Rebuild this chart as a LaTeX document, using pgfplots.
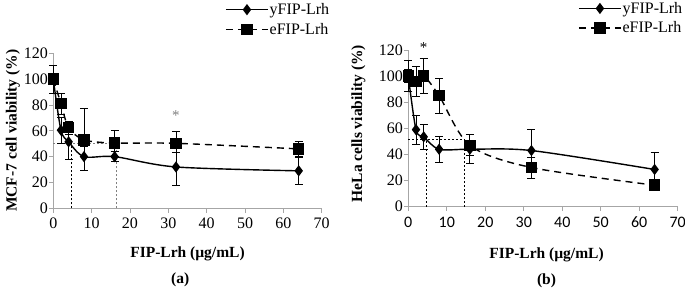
\documentclass[border=0pt]{standalone}
\usepackage{fontspec}
\setmainfont{Liberation Serif}
\newfontfamily\carlito{Carlito}
\newfontfamily\tnr{Liberation Serif}
\usepackage{pgfplots}
\pgfplotsset{compat=1.18}
\usepackage{pgfplotstable}

\pgfplotstableread{
x y ep em
0 100 4 4
2 60.5 10 10
4 51.5 8 14
8 40 8 10.5
16 40 4 4
32 32 11 14.5
64 29 10.5 10.5
}\ay
\pgfplotstableread{
x y ep em
0 100 11 11
2 81 8 8
4 62.5 5 5
8 53 24.5 24
16 50.5 10 10
32 50.3 9.5 7
64 46 6 6
}\ae
\pgfplotstableread{
x y ep em
0 100 5 5
2 59 11 11
4 53.5 9.5 9.5
8 44 10 10
16 44 11 11
32 43 16 5
64 28.5 13 13
}\by
\pgfplotstableread{
x y ep em
0 100 12 12
2 96 11.5 11.5
4 100 13.5 13.5
8 85 13.5 13.5
16 47 8 8
32 30 8 8
64 16.5 2 2
}\be

\pgfplotsset{
  common/.style={
    scale only axis, anchor=south west,
    xmin=0, xmax=70, ymin=0, ymax=120,
    xtick={0,10,20,30,40,50,60,70}, ytick={0,20,40,60,80,100,120},
    xticklabels={0,10,20,30,40,50,60,70},
    yticklabels={0,20,40,60,80,100,120},
    axis x line*=bottom, axis y line*=left,
    axis line style={gray!70, line width=0.8pt},
    tick style={gray!70, line width=0.8pt},
    tick align=outside, major tick length=4.5pt,
    tick label style={font=\tnr\fontsize{16}{17}\selectfont, text=black},
    yticklabel style={xshift=2.5pt},
    xticklabel style={yshift=-2pt},
    label style={font=\tnr\bfseries\fontsize{15.5}{18}\selectfont},
    clip=false,
    legend cell align=left,
    legend image code/.code={\draw[mark repeat=2,mark phase=2,##1] plot coordinates {(0pt,0pt) (21pt,0pt) (42pt,0pt)};},
    legend style={draw=none, fill=none, anchor=north west, inner sep=0pt, row sep=5pt,
      font=\tnr\fontsize{16}{18}\selectfont, nodes={inner sep=1pt}},
  },
  yser/.style={black, line width=1.4pt, smooth, mark=diamond*, mark size=4.5pt,
    mark options={solid, fill=black},
    error bars/.cd, y dir=both, y explicit,
    error bar style={line width=0.8pt, solid},
    error mark options={rotate=90, mark size=4pt, line width=0.8pt, solid}},
  eser/.style={black, line width=1.4pt, smooth, dash pattern=on 7pt off 5pt, mark=square*, mark size=5pt,
    mark options={solid, fill=black},
    error bars/.cd, y dir=both, y explicit,
    error bar style={line width=0.8pt, solid},
    error mark options={rotate=90, mark size=4pt, line width=0.8pt, solid}},
  refl/.style={line width=0.8pt, dash pattern=on 2pt off 2pt},
}

\begin{document}
\begin{tikzpicture}[x=1pt,y=1pt]
\path[use as bounding box] (0,0) rectangle (685,288);

\begin{axis}[common, at={(53.3pt,79.7pt)}, width=268.4pt, height=155pt,
  ylabel={MCF-7 cell viability (\%)},
  xlabel={FIP-Lrh (µg/mL)},
  ylabel style={at={(axis description cs:0,0.5)}, anchor=center, yshift=40.3pt},
  xlabel style={at={(axis description cs:0.5,0)}, anchor=center, yshift=-46pt},
  legend style={at={(0.64,1.33)}},
]
\addplot[refl, gray] coordinates {(0,50.3) (16.5,50.3)};
\addplot[refl] coordinates {(4.8,0) (4.8,51.5)};
\addplot[refl, gray] coordinates {(16.5,0) (16.5,50.3)};
\addplot[yser] table[x=x, y=y, y error plus=ep, y error minus=em] {\ay};
\addplot[eser] table[x=x, y=y, y error plus=ep, y error minus=em] {\ae};
\legend{,,,yFIP-Lrh,eFIP-Lrh}
\node[gray, font=\tnr\fontsize{15}{16}\selectfont] at (axis cs:32,72) {*};
\node[font=\tnr\bfseries\fontsize{15.5}{18}\selectfont] at (axis description cs:0.473,-0.46) {(a)};
\end{axis}

\begin{axis}[common, at={(408.3pt,81.3pt)}, width=269.4pt, height=156.7pt,
  xticklabel style={font=\carlito\fontsize{16}{17}\selectfont},
  ylabel={HeLa cells viability (\%)},
  xlabel={FIP-Lrh (µg/mL)},
  ylabel style={at={(axis description cs:0,0.53)}, anchor=center, yshift=50pt},
  xlabel style={at={(axis description cs:0.513,0)}, anchor=center, yshift=-48pt},
  legend style={at={(0.63,1.313)}},
]
\addplot[refl] coordinates {(0,51.5) (14.7,51.5)};
\addplot[refl] coordinates {(4.8,0) (4.8,53)};
\addplot[refl] coordinates {(14.7,0) (14.7,51.5)};
\addplot[yser] table[x=x, y=y, y error plus=ep, y error minus=em] {\by};
\addplot[eser] table[x=x, y=y, y error plus=ep, y error minus=em] {\be};
\legend{,,,yFIP-Lrh,eFIP-Lrh}
\node[font=\tnr\fontsize{15}{16}\selectfont] at (axis cs:4,121.5) {*};
\node[font=\tnr\bfseries\fontsize{15.5}{18}\selectfont] at (axis description cs:0.513,-0.47) {(b)};
\end{axis}
\end{tikzpicture}
\end{document}
